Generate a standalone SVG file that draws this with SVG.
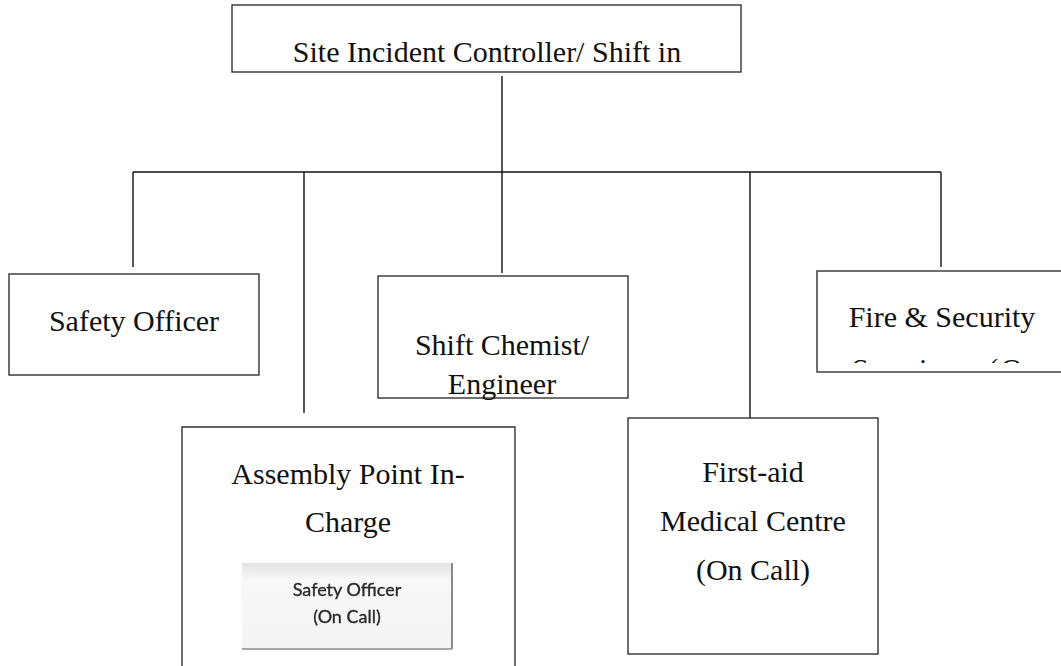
<svg xmlns="http://www.w3.org/2000/svg" width="1061" height="666" viewBox="0 0 1061 666">
  <style>
    .box { fill: #ffffff; stroke: #333333; stroke-width: 1.4; }
    .lbl { font-family: "Liberation Serif", "Times New Roman", serif; font-size: 30px; fill: #111111; text-anchor: middle; }
    .wire { stroke: #111111; stroke-width: 1.4; fill: none; }
    .snip { font-family: Lato, "Open Sans", "Liberation Sans", sans-serif; font-size: 18px; fill: #2a2a2a; stroke: #2a2a2a; stroke-width: 0.35; text-anchor: middle; }
  </style>
  <defs>
    <linearGradient id="snipFill" x1="0" y1="0" x2="0" y2="1">
      <stop offset="0" stop-color="#e2e2e2"/>
      <stop offset="0.2" stop-color="#f8f8f8"/>
      <stop offset="1" stop-color="#f4f4f4"/>
    </linearGradient>
    <filter id="soft" x="-5%" y="-5%" width="110%" height="110%">
      <feGaussianBlur stdDeviation="0.7"/>
    </filter>
    <clipPath id="fireClip">
      <rect x="817" y="271" width="244" height="92"/>
    </clipPath>
  </defs>

  <rect width="1061" height="666" fill="#ffffff"/>

  <!-- connectors -->
  <g id="connectors">
    <line class="wire" x1="502" y1="76" x2="502" y2="172"/>
    <line class="wire" x1="133" y1="172" x2="941" y2="172"/>
    <line class="wire" x1="133" y1="172" x2="133" y2="267"/>
    <line class="wire" x1="304" y1="172" x2="304" y2="413"/>
    <line class="wire" x1="502" y1="172" x2="502" y2="273"/>
    <line class="wire" x1="750" y1="172" x2="750" y2="418"/>
    <line class="wire" x1="941" y1="172" x2="941" y2="267"/>
  </g>

  <g id="site-incident-controller">
    <rect class="box" x="232" y="5" width="509" height="67"/>
    <text class="lbl" x="487" y="62">Site Incident Controller/ Shift in</text>
  </g>

  <g id="safety-officer">
    <rect class="box" x="9" y="274" width="250" height="101"/>
    <text class="lbl" x="134" y="331">Safety Officer</text>
  </g>

  <g id="shift-chemist">
    <rect class="box" x="378" y="276" width="250" height="122"/>
    <text class="lbl" x="502" y="355">Shift Chemist/</text>
    <text class="lbl" x="502" y="394">Engineer</text>
  </g>

  <g id="fire-security">
    <rect class="box" x="817" y="271" width="250" height="101"/>
    <text class="lbl" x="942" y="327">Fire &amp; Security</text>
    <!-- second line overflows the frame; only the tops of its glyphs remain -->
    <text class="lbl" x="852" y="379" style="text-anchor:start; letter-spacing:3px" clip-path="url(#fireClip)">Services (On</text>
  </g>

  <g id="assembly-point">
    <path class="box" d="M182,667 V427 H515 V667"/>
    <text class="lbl" x="348" y="484">Assembly Point In-</text>
    <text class="lbl" x="348" y="532">Charge</text>
    <g id="assembly-point-note" filter="url(#soft)">
      <rect x="242" y="563" width="210" height="86" fill="url(#snipFill)"/>
      <line x1="452" y1="563" x2="452" y2="649" stroke="#666666" stroke-width="1.5"/>
      <line x1="242" y1="649" x2="452" y2="649" stroke="#8a8a8a" stroke-width="1.5"/>
      <text class="snip" x="347" y="596">Safety Officer</text>
      <text class="snip" x="347" y="623">(On Call)</text>
    </g>
  </g>

  <g id="first-aid">
    <rect class="box" x="628" y="418" width="250" height="236"/>
    <text class="lbl" x="753" y="482">First-aid</text>
    <text class="lbl" x="753" y="531">Medical Centre</text>
    <text class="lbl" x="753" y="580">(On Call)</text>
  </g>
</svg>
